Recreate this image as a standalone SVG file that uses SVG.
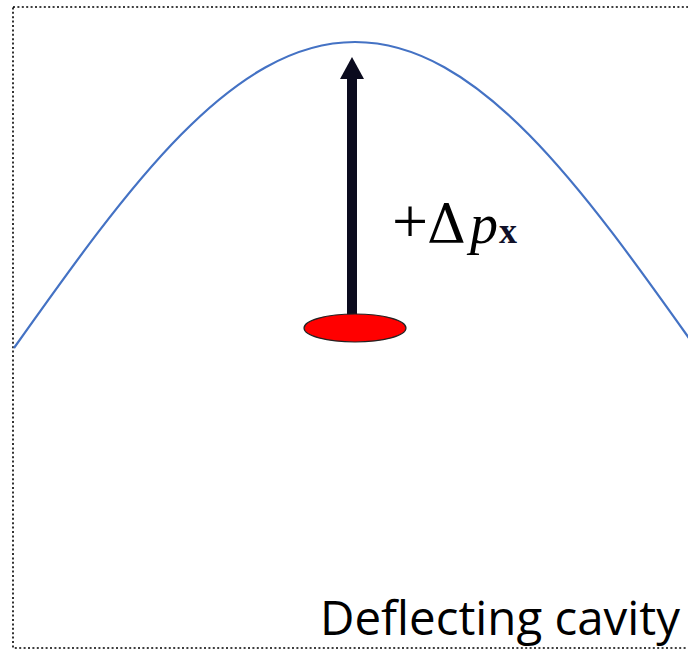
<svg xmlns="http://www.w3.org/2000/svg" width="688" height="652" viewBox="0 0 688 652">
<style>
.frame{fill:none;stroke:#000;stroke-width:1.6;stroke-dasharray:2 2.4}
.wave{fill:none;stroke:#4472c4;stroke-width:2.2}
.lbl{font-family:"Liberation Serif",serif;font-size:56px;fill:#000}
.cap{font-family:"Open Sans","Noto Sans",sans-serif;font-size:48px;fill:#000}
</style>
<rect width="688" height="652" fill="#fff"/>
<rect class="frame" x="13" y="7" width="700" height="641"/>
<g id="wave">
<path class="wave" d="M14,348 C128,187.3 231.6,42 355,42 C478.4,42 582,187.3 696,348"/>
</g>
<g id="connectors">
<rect x="347" y="74" width="10" height="246" fill="#0b0b1e"/>
<polygon points="352,57 364,79 340,79" fill="#0b0b1e"/>
</g>
<g id="particle">
<ellipse cx="355" cy="328" rx="51" ry="14" fill="#f00" stroke="#222" stroke-width="1.2"/>
</g>
<g id="label">
<text class="lbl" y="243"><tspan x="392" font-size="64">+</tspan><tspan x="427" font-family="DejaVu Serif, serif" font-size="54">Δ</tspan><tspan x="470" font-style="italic">p</tspan><tspan x="499" font-size="36" font-weight="bold" fill="#101028">x</tspan></text>
</g>
<g id="caption">
<text class="cap" x="320" y="635" textLength="360" lengthAdjust="spacingAndGlyphs">Deflecting cavity</text>
</g>
</svg>
